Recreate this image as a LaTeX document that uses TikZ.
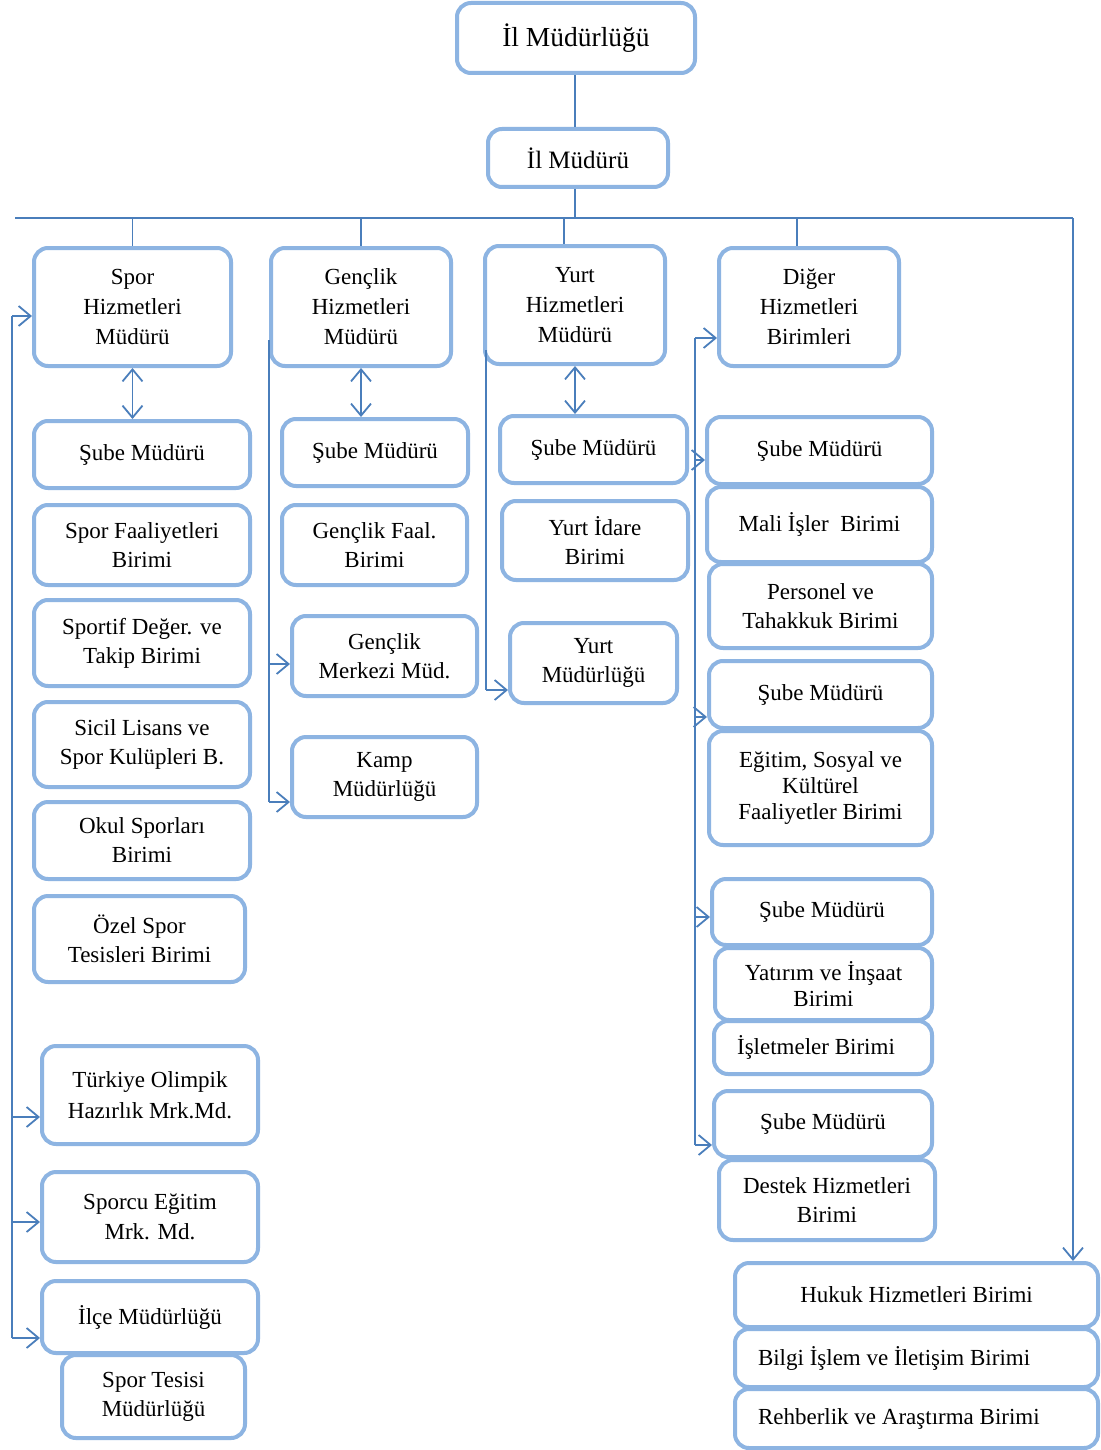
\documentclass[tikz,border=0pt]{standalone}
\usepackage{fontspec}
\setmainfont{Liberation Serif}
\usetikzlibrary{arrows.meta}
\definecolor{boxc}{HTML}{8DB4E2}
\definecolor{linec}{HTML}{4A7EBB}
\newcommand\ob[7][]{\node[bx,minimum width={(#5-#3)*1pt},minimum height={(#6-#4)*1pt},#1] (#2) at ({(#3+#5)/2},{(#4+#6)/2}) {#7};}
\begin{document}
\begin{tikzpicture}[x=1pt,y=-1pt,
  bx/.style={draw=boxc, line width=4pt, rounded corners=14pt, fill=white, align=center, inner sep=0pt, font=\fontsize{23}{29}\selectfont, text=black},
  con/.style={draw=linec, line width=1.5pt},
  tip/.tip={Straight Barb[length=12pt,width=20pt,line width=1.8pt]},
  arr/.style={con, -tip},
  darr/.style={con, tip-tip}]
\useasboundingbox[fill=white] (0,0) rectangle (1100,1450);
% top
\ob[font=\fontsize{27.5}{33}\selectfont]{ilm}{457}{3}{695}{73}{İl Müdürlüğü}
\ob[font=\fontsize{25}{30}\selectfont]{ilmd}{488}{129}{668}{187}{İl Müdürü}
% column 1
\ob[font=\fontsize{23}{30}\selectfont]{spor}{34}{248}{231}{366}{Spor\\Hizmetleri\\Müdürü}
\ob{sube1}{34}{421}{250}{488}{Şube Müdürü}
\ob{sfb}{34}{505}{250}{585}{Spor Faaliyetleri\\Birimi}
\ob{sdt}{34}{600}{250}{686}{Sportif Değer. ve\\Takip Birimi}
\ob{sil}{34}{702}{250}{787}{Sicil Lisans ve\\Spor Kulüpleri B.}
\ob{okul}{34}{802}{250}{879}{Okul Sporları\\Birimi}
\ob{ozel}{34}{896}{245}{982}{Özel Spor\\Tesisleri Birimi}
\ob[font=\fontsize{23}{31}\selectfont]{tohm}{42}{1046}{258}{1144}{Türkiye Olimpik\\Hazırlık Mrk.Md.}
\ob[font=\fontsize{23}{30}\selectfont]{sem}{42}{1172}{258}{1262}{Sporcu Eğitim\\Mrk. Md.}
\ob{ilce}{42}{1281}{258}{1353}{İlçe Müdürlüğü}
\ob{stm}{62}{1355}{245}{1438}{Spor Tesisi\\Müdürlüğü}
% column 2
\ob[font=\fontsize{23}{30}\selectfont]{genc}{271}{248}{451}{366}{Gençlik\\Hizmetleri\\Müdürü}
\ob{sube2}{282}{419}{468}{486}{Şube Müdürü}
\ob{gfb}{282}{505}{467}{585}{Gençlik Faal.\\Birimi}
\ob{gmm}{292}{616}{477}{696}{Gençlik\\Merkezi Müd.}
\ob{kamp}{292}{737}{477}{817}{Kamp\\Müdürlüğü}
% column 3
\ob[font=\fontsize{23}{30}\selectfont]{yurt}{485}{246}{665}{364}{Yurt\\Hizmetleri\\Müdürü}
\ob{sube3}{500}{416}{687}{483}{Şube Müdürü}
\ob{yib}{502}{501}{688}{580}{Yurt İdare\\Birimi}
\ob{ym}{510}{623}{677}{703}{Yurt\\Müdürlüğü}
% column 4
\ob[font=\fontsize{23}{30}\selectfont]{diger}{719}{248}{899}{366}{Diğer\\Hizmetleri\\Birimleri}
\ob{d1}{707}{417}{932}{484}{Şube Müdürü}
\ob{mali}{707}{487}{932}{562}{Mali İşler\ \ Birimi}
\ob{pers}{709}{564}{932}{648}{Personel ve\\Tahakkuk Birimi}
\ob{d2}{709}{661}{932}{728}{Şube Müdürü}
\ob[font=\fontsize{23}{26}\selectfont]{egit}{709}{731}{932}{845}{Eğitim, Sosyal ve\\Kültürel\\Faaliyetler Birimi}
\ob{d3}{712}{879}{932}{945}{Şube Müdürü}
\ob[font=\fontsize{23}{26}\selectfont]{yat}{715}{948}{932}{1020}{Yatırım ve İnşaat\\Birimi}
\ob{islt}{714}{1021}{932}{1074}{İşletmeler Birimi\hspace{14pt}}
\ob{d4}{714}{1091}{932}{1157}{Şube Müdürü}
\ob{dest}{719}{1160}{935}{1240}{Destek Hizmetleri\\Birimi}
% right column
\ob{huk}{735}{1263}{1098}{1327}{Hukuk Hizmetleri Birimi}
\ob{bilgi}{735}{1329}{1098}{1387}{\makebox[317pt][l]{Bilgi İşlem ve İletişim Birimi}}
\ob{rehb}{735}{1389}{1098}{1448}{\makebox[317pt][l]{Rehberlik ve Araştırma Birimi}}
% coordinates
\coordinate (T1) at (575,73);
\coordinate (T2) at (575,129);
\coordinate (T3) at (575,187);
\coordinate (BL) at (15,218);
\coordinate (BR) at (1073,218);
\coordinate (BM) at (575,218);
\coordinate (yd) at (564,218);
\coordinate (dd) at (797,218);
\coordinate (L1) at (12,316);
\coordinate (L2) at (12,1117);
\coordinate (L3) at (12,1222);
\coordinate (L4) at (12,1338);
\coordinate (G1) at (269,340);
\coordinate (G2) at (269,664);
\coordinate (G3) at (269,802);
\coordinate (Y1) at (486,350);
\coordinate (Y2) at (486,690);
\coordinate (D0) at (695,338);
\coordinate (D1) at (695,460);
\coordinate (D2) at (695,717);
\coordinate (D3) at (695,917);
\coordinate (D4) at (695,1145);
% connectors
\draw[con] (T1 |- ilm.south) -- (T2 |- ilmd.north);
\draw[con] (T3 |- ilmd.south) -- (BM);
\draw[con] (BL) -- (BR);
\draw[arr] (BR) -- (BR |- huk.north);
\draw[con] (spor.north |- BL) -- (spor.north);
\draw[con] (genc.north |- BL) -- (genc.north);
\draw[con] (yd) -- (yd |- yurt.north);
\draw[con] (dd) -- (dd |- diger.north);
\draw[darr] (spor.south) -- (spor.south |- sube1.north);
\draw[darr] (genc.south) -- (genc.south |- sube2.north);
\draw[darr] (yurt.south) -- (yurt.south |- sube3.north);
% left spine
\draw[con] (L1) -- (L4);
\draw[arr] (L1) -- (L1 -| spor.west);
\draw[arr] (L2) -- (L2 -| tohm.west);
\draw[arr] (L3) -- (L3 -| sem.west);
\draw[arr] (L4) -- (L4 -| ilce.west);
% gençlik spine
\draw[con] (G1) -- (G3);
\draw[arr] (G2) -- (G2 -| gmm.west);
\draw[arr] (G3) -- (G3 -| kamp.west);
% yurt spine
\draw[con] (Y1) -- (Y2);
\draw[arr] (Y2) -- (Y2 -| ym.west);
% diğer spine
\draw[con] (D0) -- (D4);
\draw[arr] (D0) -- (D0 -| diger.west);
\draw[arr] (D1) -- (D1 -| d1.west);
\draw[arr] (D2) -- (D2 -| d2.west);
\draw[arr] (D3) -- (D3 -| d3.west);
\draw[arr] (D4) -- (D4 -| d4.west);
\end{tikzpicture}
\end{document}
